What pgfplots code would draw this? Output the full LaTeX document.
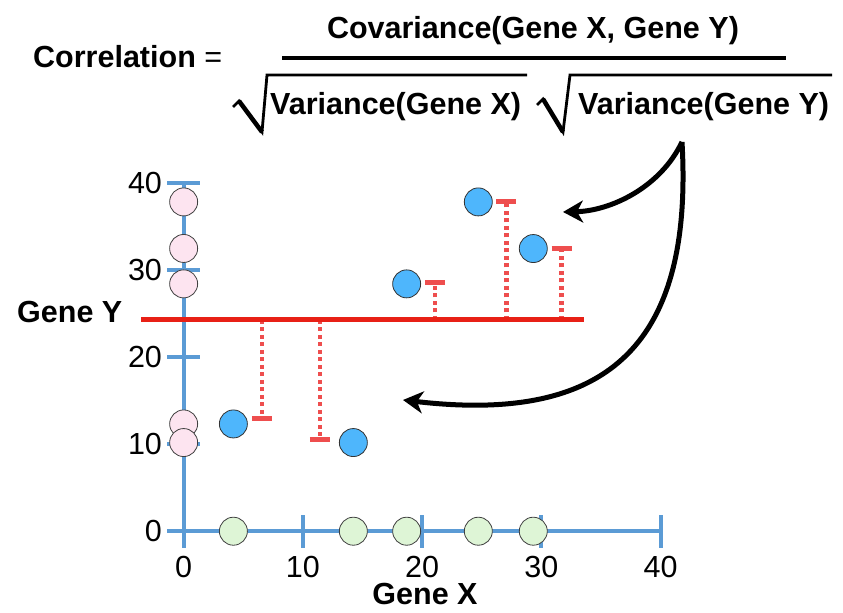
\documentclass[border=0pt]{standalone}
\usepackage{pgfplots}
\pgfplotsset{compat=1.18}
\usepackage{fontspec}
\setmainfont{Liberation Sans}
\usetikzlibrary{arrows.meta}
\definecolor{axisblue}{RGB}{91,155,213}
\definecolor{meanred}{RGB}{232,32,22}
\definecolor{resred}{RGB}{238,78,78}
\definecolor{ptblue}{RGB}{78,182,252}
\definecolor{ptpink}{RGB}{253,228,240}
\definecolor{ptgreen}{RGB}{222,245,214}
\newcommand\bigf{\fontsize{30.5bp}{36bp}\selectfont}
\begin{document}
\begin{tikzpicture}[x=1bp,y=1bp]
\useasboundingbox (0,0) rectangle (843,613);
\begin{axis}[
  at={(154,94)}, anchor=origin,
  x=11.925bp, y=8.7bp,
  xmin=0, xmax=40, ymin=0, ymax=40,
  enlargelimits=false, clip=false,
  axis lines=left,
  axis line style={-, line width=4bp, draw=axisblue},
  xtick={0,10,20,30,40}, ytick={0,10,20,30,40},
  tick align=center, major tick length=33bp,
  tick style={line width=4bp, draw=axisblue},
  /pgf/number format/assume math mode=true,
  tick label style={font=\bigf},
  xticklabel style={anchor=north, inner sep=0pt, yshift=-8bp},
  yticklabel style={anchor=east, inner sep=0pt, xshift=-5bp},
]
% residual dashed lines
\addplot[resred, line width=4.5bp, dash pattern=on 4bp off 3.5bp] coordinates {(6.57,24.3) (6.57,12.95)};
\addplot[resred, line width=4.5bp, dash pattern=on 4bp off 3.5bp] coordinates {(11.43,24.3) (11.43,10.54)};
\addplot[resred, line width=4.5bp, dash pattern=on 4bp off 3.5bp] coordinates {(21.08,24.3) (21.08,28.54)};
\addplot[resred, line width=4.5bp, dash pattern=on 4bp off 3.5bp] coordinates {(27.06,24.3) (27.06,37.85)};
\addplot[resred, line width=4.5bp, dash pattern=on 4bp off 3.5bp] coordinates {(31.70,24.3) (31.70,32.50)};
% caps
\addplot[resred, line width=5bp] coordinates {(5.73,12.95) (7.41,12.95)};
\addplot[resred, line width=5bp] coordinates {(10.59,10.54) (12.27,10.54)};
\addplot[resred, line width=5bp] coordinates {(20.24,28.54) (21.92,28.54)};
\addplot[resred, line width=5bp] coordinates {(26.22,37.85) (27.90,37.85)};
\addplot[resred, line width=5bp] coordinates {(30.86,32.50) (32.54,32.50)};
% mean line
\addplot[meanred, line width=5bp] coordinates {(-3.55,24.3) (33.57,24.3)};
% projections on axes
\addplot[only marks, mark=*, mark size=14bp, mark options={fill=ptpink, draw=black!75, line width=0.8bp}]
  coordinates {(0,37.85) (0,32.50) (0,28.43) (0,12.33) (0,10.19)};
\addplot[only marks, mark=*, mark size=14bp, mark options={fill=ptgreen, draw=black!75, line width=0.8bp}]
  coordinates {(4.17,0) (14.23,0) (18.70,0) (24.71,0) (29.32,0)};
% data points
\addplot[only marks, mark=*, mark size=14bp, mark options={fill=ptblue, draw=black!80, line width=0.8bp}]
  coordinates {(4.17,12.33) (14.23,10.19) (18.70,28.43) (24.71,37.85) (29.32,32.49)};
\end{axis}
% axis labels
\node[anchor=base west, inner sep=0] at (17,290) {\bigf\bfseries Gene Y};
\node[anchor=base, inner sep=0] at (425,8) {\bigf\bfseries Gene X};
% formula
\node[anchor=base west, inner sep=0] at (33,545) {\bigf\bfseries Correlation \mdseries=};
\node[anchor=base, inner sep=0] at (533,574) {\bigf\bfseries Covariance(Gene X, Gene Y)};
\draw[line width=4.5bp] (282,555) -- (786,555);
\draw[line width=2.8bp, line join=miter] (233,506) -- (239,512) -- (262,481) -- (267,538) -- (527,538);
\draw[line width=4.5bp] (239,512) -- (262,481);
\node[anchor=base west, inner sep=0] at (270,498) {\bigf\bfseries Variance(Gene X)};
\draw[line width=2.8bp, line join=miter] (537,508) -- (543,514) -- (563,481) -- (570,538) -- (832,538);
\draw[line width=4.5bp] (543,514) -- (563,481);
\node[anchor=base west, inner sep=0] at (578,498) {\bigf\bfseries Variance(Gene Y)};
% arrows
\draw[line width=5bp, -{Stealth[length=20bp,width=22bp,inset=6bp]}] (682,471) .. controls (660,425) and (610,402) .. (563,401);
\draw[line width=5bp, -{Stealth[length=20bp,width=22bp,inset=6bp]}] (682,471) .. controls (694,260) and (600,190) .. (403,213);
\end{tikzpicture}
\end{document}
